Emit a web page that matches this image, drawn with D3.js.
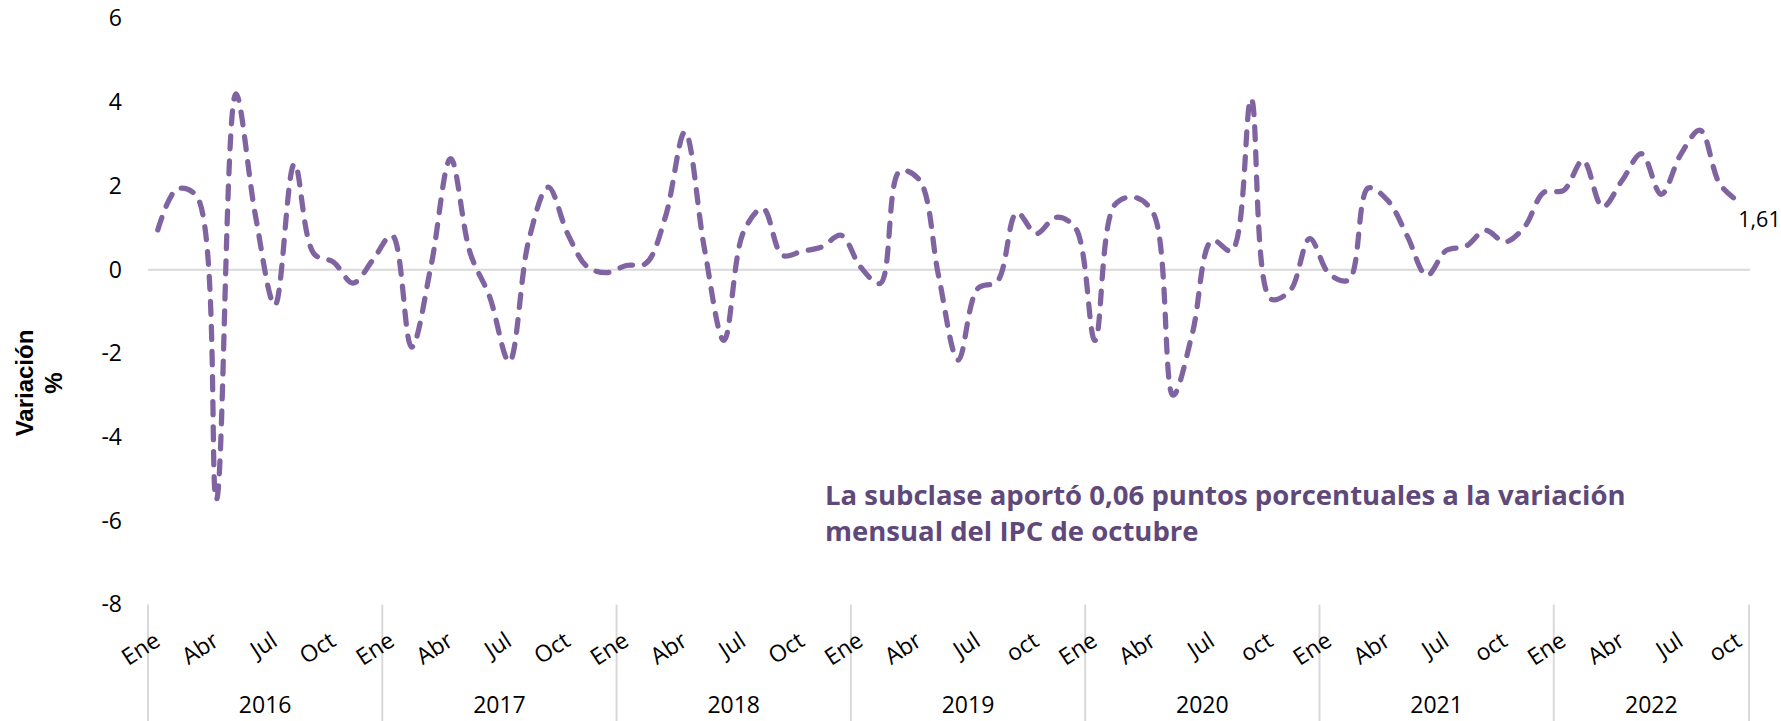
<!DOCTYPE html>
<html>
<head>
<meta charset="utf-8">
<script src="https://cdn.jsdelivr.net/npm/d3@7"></script>
<style>
  body { margin: 0; background: #fff; }
  svg { display: block; font-family: "Open Sans", sans-serif; }
</style>
</head>
<body>
<div id="chart"></div>
<script>
// variación mensual (%) por año
const years = ['2016', '2017', '2018', '2019', '2020', '2021', '2022'];
const v2016 = [0.95, 1.93, 1.75, -5.5, 4.2, 1.3, -0.85, 2.53, 0.38, 0.18, -0.32, 0.22];
const v2017 = [0.82, -1.85, 0.1, 2.65, 0.4, -0.65, -2.2, 0.7, 1.97, 0.85, 0.07, -0.07];
const v2018 = [0.1, 0.15, 1.26, 3.29, 0.5, -1.69, 0.9, 1.46, 0.34, 0.44, 0.54, 0.82];
const v2019 = [0.06, -0.33, 2.35, 2.15, -0.17, -2.16, -0.45, -0.28, 1.36, 0.86, 1.25, 1.0];
const v2020 = [-1.69, 1.54, 1.73, 1.34, -3.0, -1.5, 0.7, 0.45, 4.08, -0.7, -0.5, 0.74];
const v2021 = [-0.1, -0.25, 1.95, 1.65, 0.8, -0.14, 0.46, 0.56, 0.94, 0.66, 1.02, 1.85];
const v2022 = [1.89, 2.61, 1.5, 2.13, 2.77, 1.8, 2.75, 3.33, 2.05, 1.61];
const yearValues = [v2016, v2017, v2018, v2019, v2020, v2021, v2022];

// etiquetas de meses mostradas (Ene, Abr, Jul, Oct)
const tickMonths = [0, 3, 6, 9];
const tickLabels = [
    ['Ene', 'Abr', 'Jul', 'Oct'],
    ['Ene', 'Abr', 'Jul', 'Oct'],
    ['Ene', 'Abr', 'Jul', 'Oct'],
    ['Ene', 'Abr', 'Jul', 'oct'],
    ['Ene', 'Abr', 'Jul', 'oct'],
    ['Ene', 'Abr', 'Jul', 'oct'],
    ['Ene', 'Abr', 'Jul', 'oct']
];
const yTicks = [-8, -6, -4, -2, 0, 2, 4, 6];
const lastLabel = '1,61';
const note = ['La subclase aportó 0,06 puntos porcentuales a la variación',
              'mensual del IPC de octubre'];

let data = [];
yearValues.forEach((vals, yi) => {
    vals.forEach((v, m) => data.push({year: yi, month: m, value: v}));
});
data.forEach((d, i) => d.idx = i);

let width = 1781;
let height = 721;
let margin = {top: 18.5, right: 32, bottom: 116.5, left: 148};

let x = d3.scaleBand()
        .domain(data.map(d => d.idx))
        .range([margin.left, width - margin.right]);

let cx = i => x(i) + x.bandwidth() / 2;

let y = d3.scaleLinear()
        .domain([-8, 6])
        .range([height - margin.bottom, margin.top]);

let svg = d3.select('#chart').append('svg')
        .attr('width', width)
        .attr('height', height);

// eje Y
svg.append('g')
    .attr('transform', `translate(${margin.left},0)`)
    .call(d3.axisLeft(y).tickValues(yTicks).tickSize(0).tickPadding(26).tickFormat(d => String(d)))
    .call(g => g.select('.domain').remove())
    .selectAll('text')
        .attr('font-size', 23)
        .attr('font-family', '"Open Sans", sans-serif')
        .attr('fill', '#000');

// línea de cero
svg.append('line')
    .attr('x1', margin.left)
    .attr('x2', width - margin.right + 1)
    .attr('y1', y(0))
    .attr('y2', y(0))
    .attr('stroke', '#d9d9d9')
    .attr('stroke-width', 2);

// separadores de años
let yearStart = [];
let acc = 0;
yearValues.forEach(v => { yearStart.push(acc); acc += v.length; });

let bounds = yearStart.map(s => x(s)).concat([x(acc - 1) + x.bandwidth()]);
svg.append('g').selectAll('line')
    .data(bounds)
    .join('line')
        .attr('x1', d => d)
        .attr('x2', d => d)
        .attr('y1', y(-8))
        .attr('y2', height)
        .attr('stroke', '#d9d9d9')
        .attr('stroke-width', 2);

// etiquetas de meses
let monthTicks = [];
yearValues.forEach((vals, yi) => {
    tickMonths.forEach((m, k) => {
        if (m < vals.length) monthTicks.push({idx: yearStart[yi] + m, label: tickLabels[yi][k]});
    });
});

svg.append('g').selectAll('text')
    .data(monthTicks)
    .join('text')
        .attr('transform', d => `translate(${cx(d.idx) + 4},${y(-8) + 40}) rotate(-33)`)
        .attr('text-anchor', 'end')
        .attr('font-size', 23)
        .attr('fill', '#000')
        .text(d => d.label);

// etiquetas de años
svg.append('g').selectAll('text')
    .data(years)
    .join('text')
        .attr('x', (d, i) => (bounds[i] + bounds[i + 1]) / 2)
        .attr('y', 713)
        .attr('text-anchor', 'middle')
        .attr('font-size', 23)
        .attr('fill', '#000')
        .text(d => d);

// serie
let line = d3.line()
        .x(d => cx(d.idx))
        .y(d => y(d.value))
        .curve(d3.curveCatmullRom);

svg.append('path')
    .datum(data)
    .attr('fill', 'none')
    .attr('stroke', '#8064a2')
    .attr('stroke-width', 5.25)
    .attr('stroke-linecap', 'round')
    .attr('stroke-dasharray', '13 12')
    .attr('d', line);

// etiqueta del último dato
let last = data[data.length - 1];
svg.append('text')
    .attr('x', cx(last.idx) - 1)
    .attr('y', y(last.value) + 25)
    .attr('font-size', 21.5)
    .attr('fill', '#000')
    .text(lastLabel);

// nota
svg.append('g').selectAll('text')
    .data(note)
    .join('text')
        .attr('x', 825)
        .attr('y', (d, i) => 505 + i * 36)
        .attr('font-size', 27.5)
        .attr('font-weight', 'bold')
        .attr('fill', '#5f497a')
        .text(d => d);

// título eje Y
let title = svg.append('g')
        .attr('transform', 'translate(33,383) rotate(-90)')
        .attr('font-family', '"Liberation Sans", Arial, sans-serif')
        .attr('font-weight', 'bold')
        .attr('font-size', 24)
        .attr('text-anchor', 'middle')
        .attr('fill', '#000');

title.append('text').attr('x', 0).attr('y', 0).text('Variación');
title.append('text').attr('x', 0).attr('y', 29).text('%');
</script>
</body>
</html>
